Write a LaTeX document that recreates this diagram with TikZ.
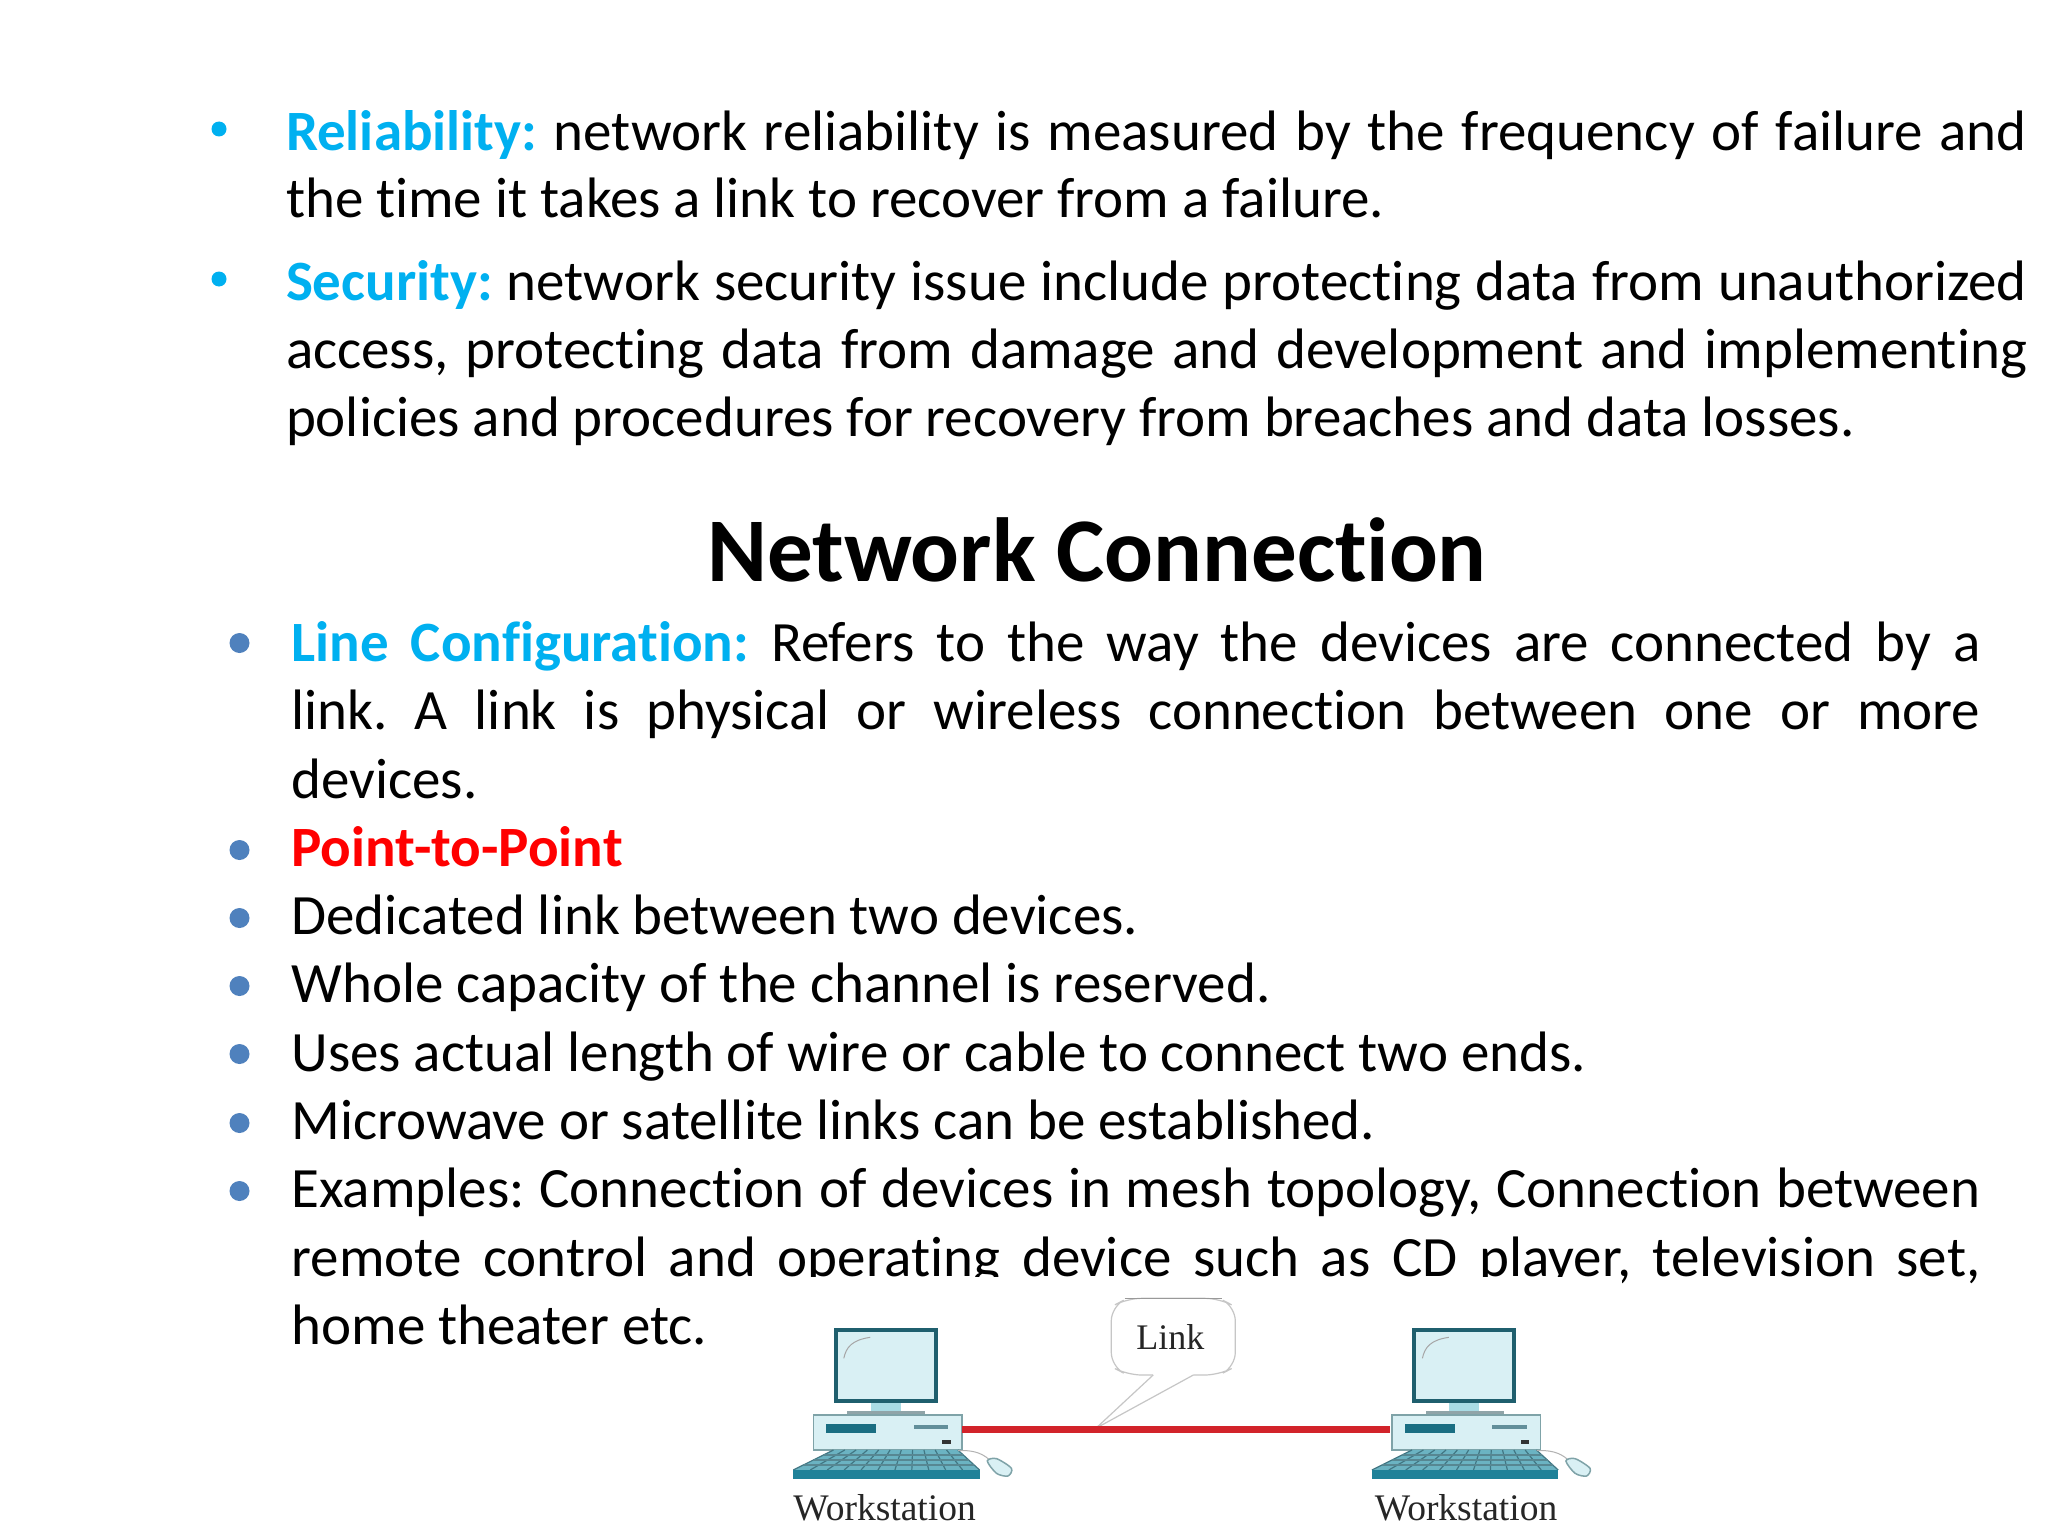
\documentclass[tikz,border=0pt]{standalone}
\usepackage{fontspec}
\setmainfont[Ligatures=NoCommon]{Carlito}
\newfontfamily\linkfont{Liberation Serif}
\frenchspacing
\definecolor{cyanhead}{HTML}{00B0F0}
\definecolor{bulletblue}{HTML}{4F81BD}
\definecolor{wkdark}{HTML}{1F5F6E}
\definecolor{wkteal}{HTML}{1F8299}
\definecolor{wklight}{HTML}{D9F0F4}
\definecolor{wkmid}{HTML}{A9DBE4}
\definecolor{wkedge}{HTML}{7FA3A8}
\definecolor{wkred}{HTML}{D2232A}
\newcommand{\bodyfont}{\fontsize{57}{66}\selectfont}
\newcommand{\titlefont}{\fontsize{91}{100}\selectfont\bfseries}
\newcommand{\labfont}{\fontsize{37.5}{42}\selectfont\linkfont}
\newcommand{\linkfontsize}{\fontsize{36}{40}\selectfont\linkfont}
\newcommand{\head}[1]{\textcolor{cyanhead}{\textbf{#1}}}
\newcommand{\jl}[5]{\node[txt] (#1) at (#2,#3) {\frenchspacing\makebox[#4pt][s]{#5}};}
\newcommand{\tl}[4]{\node[txt] (#1) at (#2,#3) {#4};}
\tikzset{
 txt/.style={anchor=base west,inner sep=0pt,outer sep=0pt,font=\bodyfont,text=black},
 topbullet/.style={circle,fill=cyanhead,inner sep=0pt,minimum size=15pt},
 lowbullet/.style={circle,fill=bulletblue,inner sep=0pt,minimum size=20pt},
 wklabel/.style={font=\labfont,text=black!85,inner sep=0pt},
 wks/.pic={
  % monitor
  \draw[wkdark,line width=4pt,fill=wklight] (132,210) rectangle (306,423);
  \draw[gray!70,line width=1pt] (146,295) .. controls (150,262) and (160,240) .. (192,232);
  \fill[wkmid] (193,428) rectangle (245,452);
  \fill[gray!60!wkmid] (152,452) rectangle (288,466);
  % case
  \draw[wkedge,line width=1.2pt,fill=wklight] (93,465) rectangle (352,570);
  \fill[wkteal!85!black] (115,492) rectangle (202,520);
  \fill[wkdark!70] (268,496) rectangle (328,508);
  \fill[black!80] (317,540) rectangle (332,552);
  % keyboard
  \fill[wkmid!55!wkteal] (128,570) -- (345,570) -- (383,630) -- (58,630) -- cycle;
  \foreach \k in {0,1,...,11}{
    \draw[wkdark!85,line width=1.2pt] ({128+\k*19.7},570) -- ({58+\k*29.5},630);
  }
  \foreach \r in {585,600,615}{
    \draw[wkdark!75,line width=1.2pt] ({128-(\r-570)*70/60},\r) -- ({345+(\r-570)*38/60},\r);
  }
  \fill[wkteal] (58,630) rectangle (383,657);
  % mouse
  \draw[gray!60,line width=1pt] (345,572) .. controls (365,570) and (385,575) .. (400,600);
  \draw[wkedge,line width=1.5pt,fill=wklight] plot[smooth cycle] coordinates {(396,603) (412,596) (438,625) (432,648) (412,640)};
  \coordinate (-east) at (352,510);
  \coordinate (-west) at (93,510);
 }
}
\begin{document}
\begin{tikzpicture}[x=1pt,y=-1pt]
\useasboundingbox (0,0) rectangle (2048,1536);
\fill[white] (0,0) rectangle (2048,1536);
% top block
\node[topbullet] (b1) at (219,129) {};
\jl{t1}{286}{150.5}{1741}{\head{Reliability:} network reliability is measured by the frequency of failure and}
\tl{t2}{286}{217.5}{the time it takes a link to recover from a failure.}
\node[topbullet] (b2) at (219,279) {};
\jl{t3}{286}{300}{1741}{\head{Security:} network security issue include protecting data from unauthorized}
\jl{t4}{286}{368}{1741}{access, protecting data from damage and development and implementing}
\tl{t5}{286}{436.5}{policies and procedures for recovery from breaches and data losses.}
% title
\node[anchor=base,inner sep=0pt,font=\titlefont] (title) at (1097,581.5) {Network Connection};
% lower block
\foreach \n/\y in {c1/643,c2/850,c3/918,c4/986,c5/1054,c6/1123,c7/1191}{
  \node[lowbullet] (\n) at (239.5,\y) {};
}
\jl{l1}{291.5}{661}{1689}{\head{Line Configuration:} Refers to the way the devices are connected by a}
\jl{l2}{291.5}{729}{1689}{link. A link is physical or wireless connection between one or more}
\tl{l3}{291.5}{798}{devices.}
\tl{l4}{291.5}{866}{\textcolor{red}{\textbf{Point-to-Point}}}
\tl{l5}{291.5}{934}{Dedicated link between two devices.}
\tl{l6}{291.5}{1002.5}{Whole capacity of the channel is reserved.}
\tl{l7}{291.5}{1071}{Uses actual length of wire or cable to connect two ends.}
\tl{l8}{291.5}{1139}{Microwave or satellite links can be established.}
\jl{l9}{291.5}{1207.5}{1689}{Examples: Connection of devices in mesh topology, Connection between}
\jl{l10}{291.5}{1276}{1689}{remote control and operating device such as CD player, television set,}
\tl{l11}{291.5}{1344}{home theater etc.}
% image patch with the figure
\fill[white] (772,1277) rectangle (1622,1536);
\begin{scope}[shift={(760,1260)},x=0.574pt,y=-0.3333pt]
  \pic (A) at (0,0) {wks};
  \pic (B) at (1008,0) {wks};
  \node[wklabel] (labA) at (217,742) {Workstation};
  \node[wklabel] (labB) at (1230,742) {Workstation};
  \coordinate (tail) at (585,505);
  \draw[gray!45,line width=1.2pt,fill=white,rounded corners=14pt]
     (685,345) -- (640,345) -- (612,320) -- (612,140) -- (640,115) -- (800,115) -- (828,140) -- (828,320) -- (800,345) -- (755,345);
  \draw[gray!80,line width=1.5pt] (635,116) -- (805,116);
  \draw[gray!45,line width=1.2pt] (685,345) -- (tail) -- (755,345);
  \node[font=\linkfontsize,text=black!85,inner sep=0pt] (linklabel) at (715,232) {Link};
  \draw[wkred,line width=7pt,shorten >=2pt] (A-east) -- (B-west);
\end{scope}
\end{tikzpicture}
\end{document}
